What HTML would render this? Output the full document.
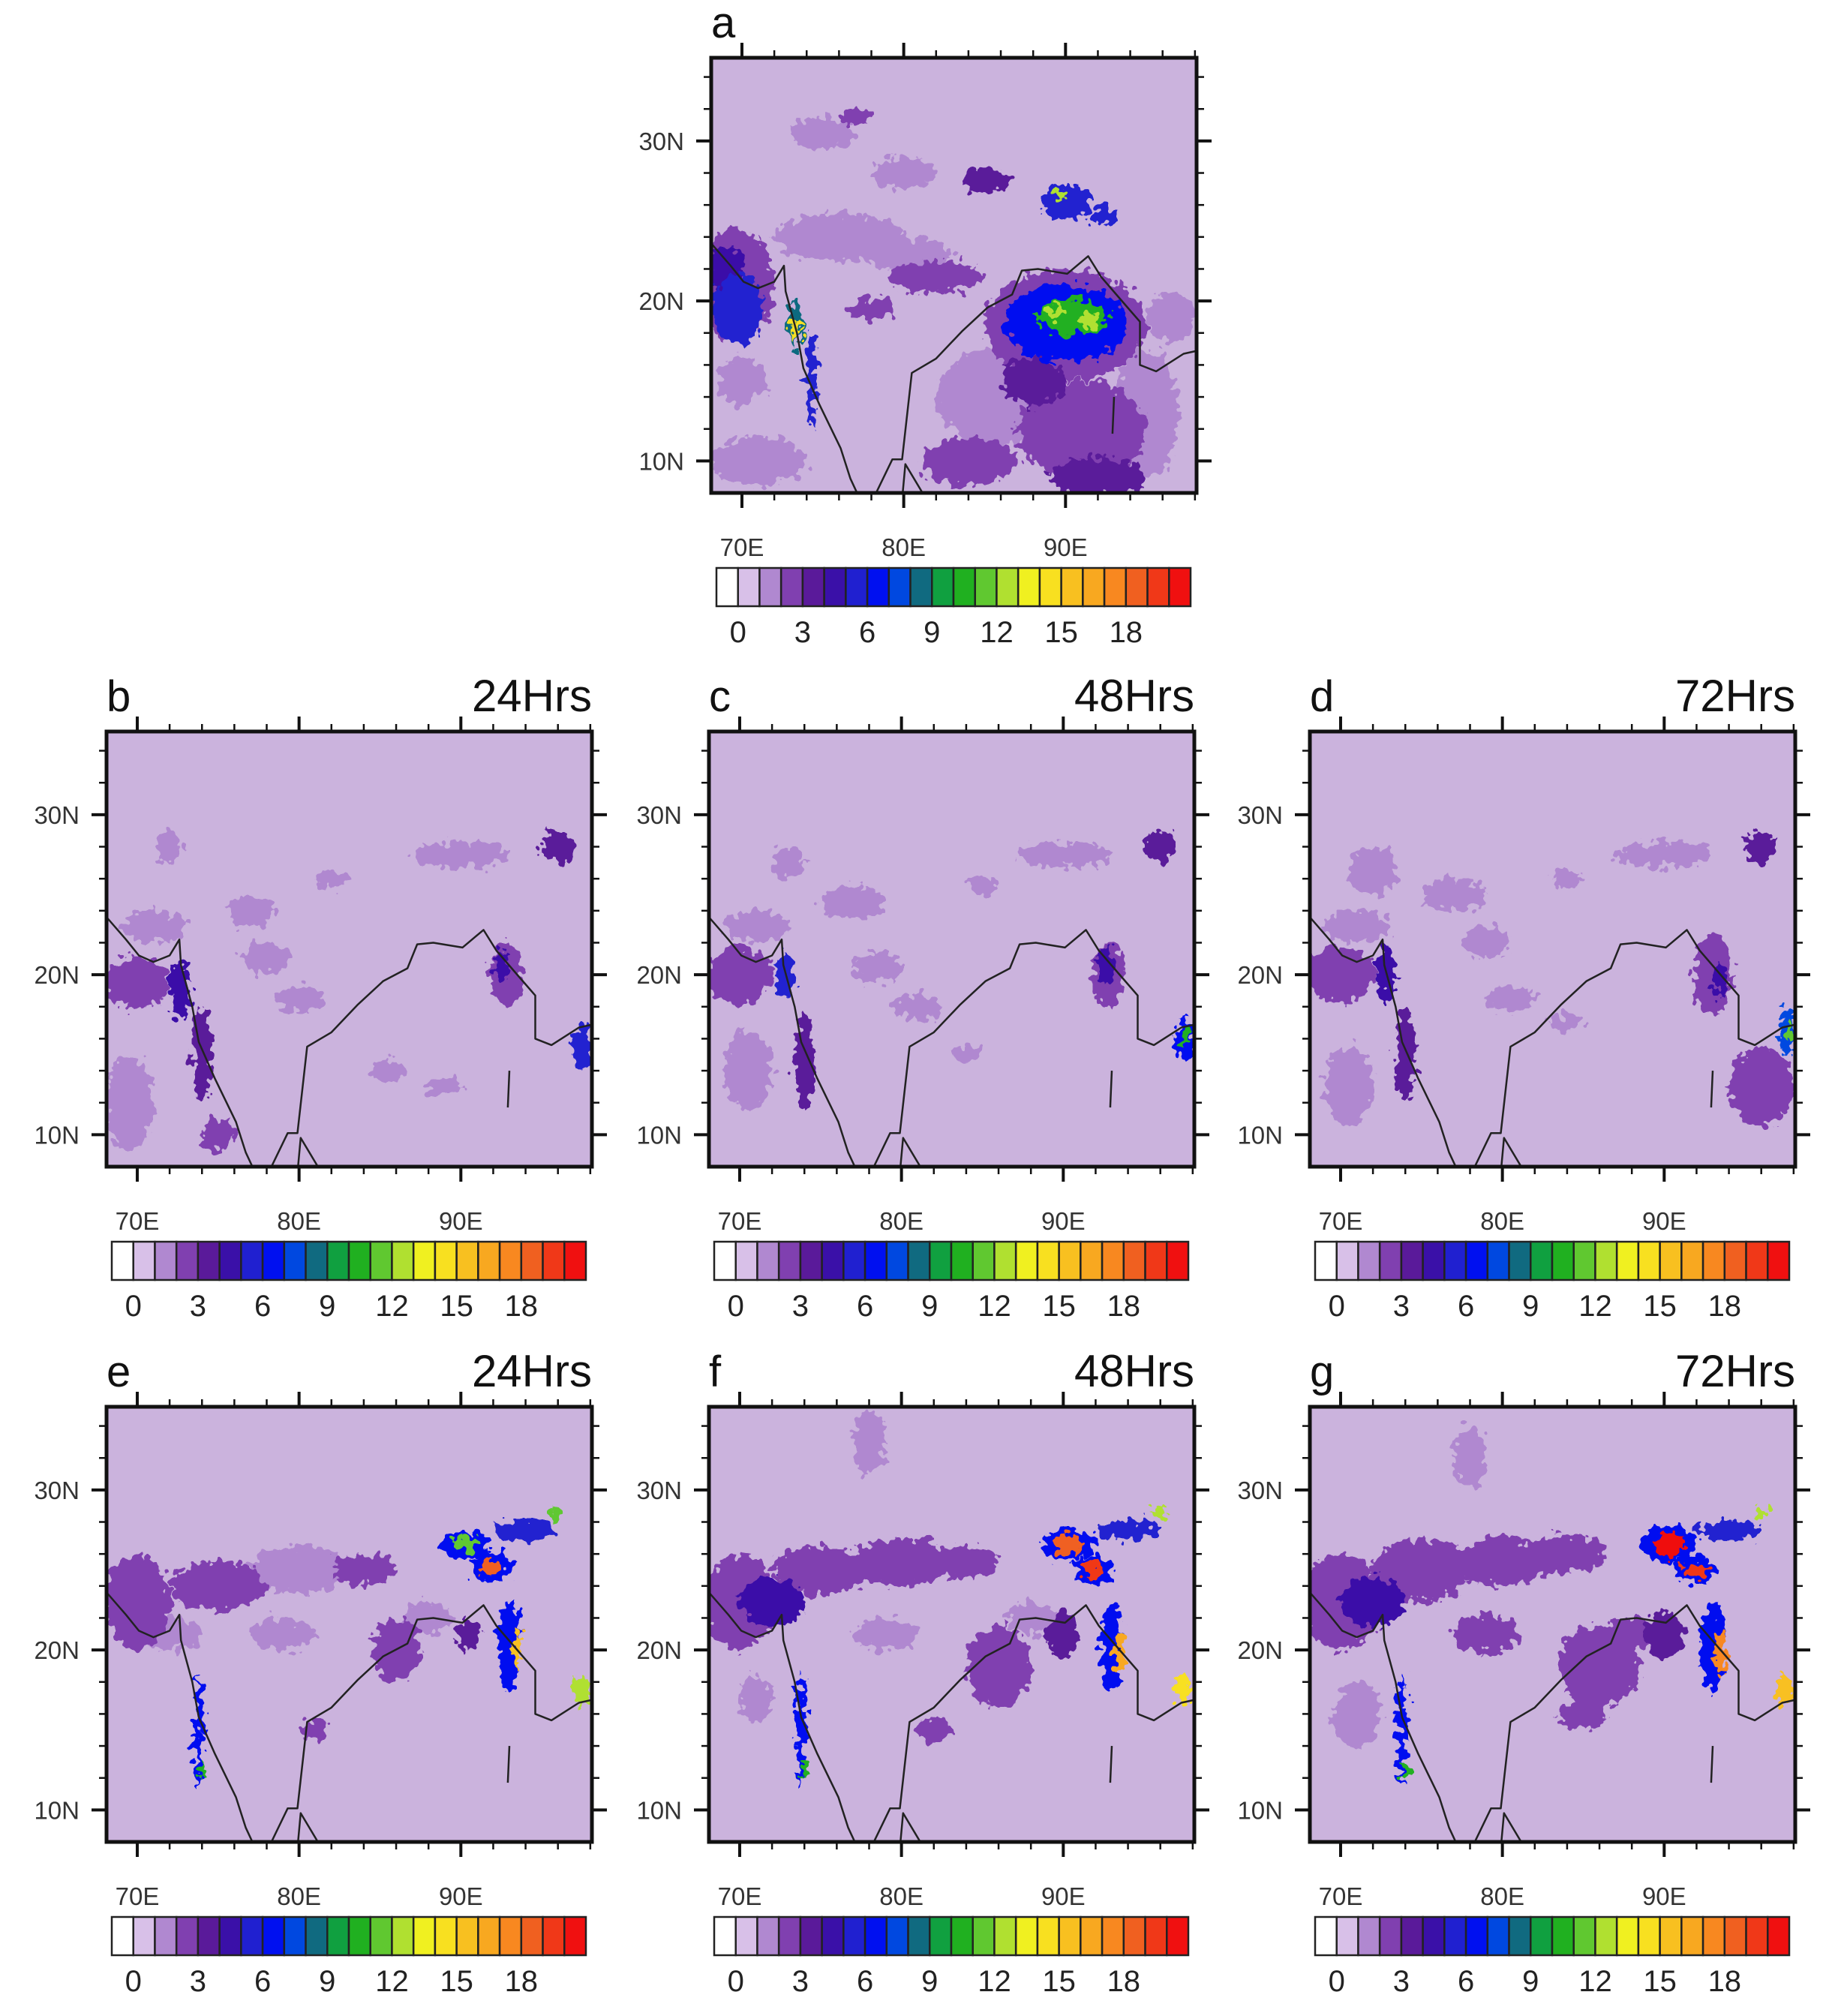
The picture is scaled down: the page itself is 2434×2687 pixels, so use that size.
<!DOCTYPE html>
<html><head><meta charset="utf-8">
<style>
html,body{margin:0;padding:0;background:#fff;}
svg text{font-family:"Liberation Sans",sans-serif;}
</style></head>
<body>
<svg id="fig" width="2434" height="2682" viewBox="0 0 2434 2682" xmlns="http://www.w3.org/2000/svg">
<defs>
<filter id="rough" x="-10%" y="-10%" width="120%" height="120%">
<feTurbulence type="fractalNoise" baseFrequency="0.09" numOctaves="2" seed="5" result="n"/>
<feDisplacementMap in="SourceGraphic" in2="n" scale="30" xChannelSelector="R" yChannelSelector="G"/>
</filter>
</defs>
</svg>
<script>
// ---- data ----
const colorLevels = ['#ffffff','#d8c0e8','#b088d0','#8040b0','#5a1a9a','#3a10a8','#2020d0','#0010f0','#0048e0','#106a80','#10a040','#20b020','#60c830','#b0e030','#f0f020','#f8e020','#f8c020','#f8a820','#f88820','#f06020','#f03818','#f01010'];
const cbarTicks = ['0','3','6','9','12','15','18'];
const lonTicks = [70,80,90];
const latTicks = [10,20,30];
const coastWest = [[68.1,23.6],[69.3,22.2],[70.1,21.2],[71.0,20.8],[72.0,21.2],[72.6,22.2],[72.7,20.6],[73.4,18.0],[73.8,15.8],[74.8,13.5],[76.1,10.8],[76.7,8.9],[77.3,7.6]];
const coastEast = [[78.1,7.6],[79.3,10.1],[79.9,10.1],[80.1,11.9],[80.5,15.5],[82.0,16.4],[83.6,18.1],[85.2,19.6],[86.7,20.4],[87.3,21.9],[88.3,22.0],[90.1,21.7],[91.4,22.8],[92.2,21.5],[93.4,20.1],[94.6,18.7],[94.6,16.0],[95.6,15.6],[97.3,16.7],[98.2,16.9]];
const lanka = [[79.9,7.6],[80.1,9.8],[81.4,7.6]];
const andaman = [[93.0,14.0],[92.9,11.7]];
// blobs: [lon, lat, radiusLon, radiusLat, level]
const blobsA = [[69.5,21,2.5,3.5,3],[69.8,19.5,1.6,2.2,6],[69,22,1.2,1.5,5],[73.3,18.5,0.4,1.5,9],[73.3,18.2,0.25,0.8,15],[74.3,15,0.35,3,6],[76,24,4,1.5,2],[80,23,3,1,2],[82,21.5,3,1,3],[78,19.5,1.5,0.7,3],[75,30.5,2,1,2],[80,28,2,1,2],[85,27.5,1.5,0.8,4],[77,31.5,1,0.5,3],[90,26.2,1.6,1.1,6],[89.7,26.6,0.5,0.3,13],[92.3,25.3,0.8,0.6,6],[90,18.5,5,3.5,3],[90,18.6,3.8,2.4,7],[90.5,19,2.2,1.1,11],[89.3,19.3,0.5,0.4,13],[91.5,18.8,0.6,0.4,13],[86,14,4,3,2],[91,12,4,3,3],[95,13,2,4,2],[84,10,3,1.5,3],[92,9,3,1.2,4],[71,10,3,1.5,2],[70,15,1.5,1.5,2],[96.5,19,1.5,1.5,2],[88,15,2,1.5,4]];
const blobsB = [[70,19.5,2,1.6,3],[72.6,19,0.6,1.8,5],[69.5,12,1.5,3,2],[74,15,0.6,3,4],[75,10,1,1,3],[72,28,0.8,1,2],[77,24,1.5,1,2],[78,21,1.5,1,2],[80,18.5,1.5,0.8,2],[85.5,14,1,0.6,2],[89,13,1.2,0.5,2],[92.8,20,1,2,3],[92.5,20.5,0.5,1,5],[97.5,15.5,0.6,1.5,6],[90,27.5,3,0.8,2],[96,28,1,1,4],[82,26,1,0.6,2],[71,23,2,1,2]];
const blobsC = [[70,20,2,1.8,3],[72.8,20,0.6,1.5,6],[70.5,14,1.5,2.5,2],[74,14.5,0.6,3,4],[73,27,1,1,2],[77,24.5,2,1,2],[78.5,20.5,1.5,1,2],[81,18,1.5,0.8,2],[84,15,1,0.6,2],[92.8,20,1,2,3],[92.6,20.6,0.5,1.2,5],[97.5,16,0.6,1.5,7],[97.6,16,0.3,0.6,11],[90,27.5,3,0.8,2],[96,28,1,1,4],[85,25.5,1,0.6,2],[71,23,2,1,2]];
const blobsD = [[70,20,2.2,1.8,3],[72.8,20,0.6,1.8,5],[70.5,13,1.5,2.5,2],[74,15,0.6,3,4],[72,26.5,1.5,1.5,2],[77,25,2,1,2],[79,22,1.5,1,2],[80.5,18.5,1.5,0.8,2],[84,17,1,0.6,2],[93,20,1.2,2.5,3],[93.5,19.5,0.5,1.2,5],[96,13,2,2.5,3],[97.6,16.5,0.5,1.5,8],[97.7,16.5,0.25,0.6,12],[90,27.5,3,0.8,2],[96,28,1,1,4],[84,26,1,0.6,2],[71,23,2,1,2]];
const blobsE = [[70,23,2,3,3],[72,21,2,1,2],[75,24,3,1.5,3],[80,25,3,1.5,2],[84,25,2,1,3],[79,21,2,1,2],[86,20,1.5,2,3],[88,22,1.5,1,2],[73.8,15,0.3,3.5,7],[74,12.5,0.2,0.5,11],[90.3,26.6,1.5,0.9,7],[90.3,26.7,0.8,0.5,12],[91.9,25.2,1.2,0.9,7],[91.9,25.2,0.6,0.5,19],[94,27.5,2,0.6,6],[95.9,28.6,0.5,0.4,12],[93,20.2,0.7,2.8,7],[93.5,20,0.3,1.2,16],[97.4,17.5,0.5,1,13],[81,15,0.8,0.6,3],[90.5,21,0.8,1,4]];
const blobsF = [[70,23,2.2,3,3],[72,23,2,1.5,5],[75,25,3,1.5,3],[80,25.5,3,1.5,3],[84,25.5,2,1,3],[79,21,2,1,2],[86,19,2,2.5,3],[88,22,1.5,1,2],[71,17,1,1.5,2],[73.8,15,0.3,3.5,7],[74,12.5,0.2,0.5,11],[78,33,1,2,2],[90.3,26.6,1.6,1,7],[90.3,26.6,0.9,0.6,19],[91.9,25,1.2,0.9,7],[91.9,25,0.7,0.5,20],[94,27.5,2,0.6,6],[95.9,28.6,0.5,0.4,13],[93,20.2,0.7,2.8,7],[93.5,19.8,0.3,1.3,17],[97.4,17.5,0.5,1,15],[82,15,1,0.8,3],[90,21,1,1.5,4]];
const blobsG = [[70,23,2.5,3,3],[72,23,2,1.5,5],[75,25,3,2,3],[80,25.5,3,1.5,3],[84,26,2.5,1.2,3],[79,21,2,1.2,3],[86,19,2.5,2.5,3],[88,21,1.5,1,3],[71,16,1.5,2,2],[73.8,15,0.3,3.5,7],[74,12.5,0.2,0.5,11],[78,32,1,2,2],[90.3,26.6,1.8,1.1,7],[90.3,26.6,1,0.7,21],[91.9,25,1.3,0.9,7],[91.9,25,0.8,0.5,20],[94,27.5,2,0.6,6],[95.9,28.6,0.5,0.4,13],[93,20.2,0.8,2.8,7],[93.5,19.8,0.35,1.5,18],[97.4,17.5,0.5,1,16],[85,16,1.5,1,3],[90,21,1.2,1.5,4]];

// ---- layout ----
const NS='http://www.w3.org/2000/svg';
const svg=document.getElementById('fig');
const W=647,H=580,LON0=68.1,LON1=98.1,LAT0=8.0,LAT1=35.2;
function mk(tag,attrs,parent){const e=document.createElementNS(NS,tag);for(const k in attrs)e.setAttribute(k,attrs[k]);(parent||svg).appendChild(e);return e;}
const panels=[
 {id:'a',L:948,T:77,blobs:blobsA,hrs:''},
 {id:'b',L:142,T:975,blobs:blobsB,hrs:'24Hrs'},
 {id:'c',L:945,T:975,blobs:blobsC,hrs:'48Hrs'},
 {id:'d',L:1746,T:975,blobs:blobsD,hrs:'72Hrs'},
 {id:'e',L:142,T:1875,blobs:blobsE,hrs:'24Hrs'},
 {id:'f',L:945,T:1875,blobs:blobsF,hrs:'48Hrs'},
 {id:'g',L:1746,T:1875,blobs:blobsG,hrs:'72Hrs'}];
panels.forEach(p=>{
 const xs=lon=>p.L+(lon-LON0)/(LON1-LON0)*W;
 const ys=lat=>p.T+(LAT1-lat)/(LAT1-LAT0)*H;
 const g=mk('g',{});
 
 
 const cp=mk('clipPath',{id:'clip'+p.id},g);
 mk('rect',{x:p.L,y:p.T,width:W,height:H},cp);
 const bg=mk('rect',{x:p.L,y:p.T,width:W,height:H,fill:'#cbb3dd'},g);
 
 
 const bl=mk('g',{'clip-path':'url(#clip'+p.id+')'},g);
 const bf=mk('g',{filter:'url(#rough)'},bl);
 const sorted=p.blobs.slice().sort((a,b)=>a[4]-b[4]);
 sorted.forEach(b=>{
  const e=mk('ellipse',{cx:xs(b[0]),cy:ys(b[1]),rx:Math.abs(xs(b[0]+b[2])-xs(b[0])),ry:Math.abs(ys(b[1]+b[3])-ys(b[1])),fill:colorLevels[b[4]]},bf);
  
  
 });
 const line=pts=>pts.map((q,i)=>(i?'L':'M')+xs(q[0]).toFixed(1)+','+ys(q[1]).toFixed(1)).join(' ');
 [coastWest,coastEast,lanka,andaman].forEach(c=>{
  const pth=mk('path',{d:line(c),fill:'none',stroke:'#222',"stroke-width":2.5,"stroke-linejoin":"round"},bl);
  
  
 });
 const fr=mk('rect',{x:p.L,y:p.T,width:W,height:H,fill:'none',stroke:'#111','stroke-width':5},g);
 
 
 for(let lon=70;lon<=98;lon+=2){const maj=lon%10===0;const x=xs(lon);const len=maj?20:10;const w=maj?4:2.5;
  mk('line',{x1:x,y1:p.T,x2:x,y2:p.T-len,stroke:'#111','stroke-width':w},g);
  mk('line',{x1:x,y1:p.T+H,x2:x,y2:p.T+H+len,stroke:'#111','stroke-width':w},g);}
 for(let lat=10;lat<=34;lat+=2){const maj=lat%10===0;const y=ys(lat);const len=maj?20:10;const w=maj?4:2.5;
  mk('line',{x1:p.L,y1:y,x2:p.L-len,y2:y,stroke:'#111','stroke-width':w},g);
  mk('line',{x1:p.L+W,y1:y,x2:p.L+W+len,y2:y,stroke:'#111','stroke-width':w},g);}
 latTicks.forEach(lat=>{const t=mk('text',{x:p.L-36,y:ys(lat)+12,'font-size':33,'text-anchor':'end',fill:'#333'},g);t.textContent=lat+'N';
  
  });
 lonTicks.forEach(lon=>{const t=mk('text',{x:xs(lon),y:p.T+664,'font-size':33,'text-anchor':'middle',fill:'#333'},g);t.textContent=lon+'E';
  
  });
 const lt=mk('text',{x:p.L,y:p.T-27,'font-size':58,fill:'#111'},g);lt.textContent=p.id;
 
 
 if(p.hrs){const ht=mk('text',{x:p.L+W,y:p.T-27,'font-size':60,'text-anchor':'end',fill:'#111'},g);ht.textContent=p.hrs;
  
  }
 const cb=mk('g',{},g);
 
 
 const bx0=p.L+7,bw=(W-15)/colorLevels.length,by=p.T+680,bh=51;
 colorLevels.forEach((c,i)=>{const r=mk('rect',{x:bx0+i*bw,y:by,width:bw,height:bh,fill:c,stroke:'#222','stroke-width':2.5},cb);
  
  });
 cbarTicks.forEach(v=>{const t=mk('text',{x:bx0+(+v+1)*bw,y:by+99,'font-size':40,'text-anchor':'middle',fill:'#222'},cb);t.textContent=v;
  
  });
});
</script>
</body></html>
